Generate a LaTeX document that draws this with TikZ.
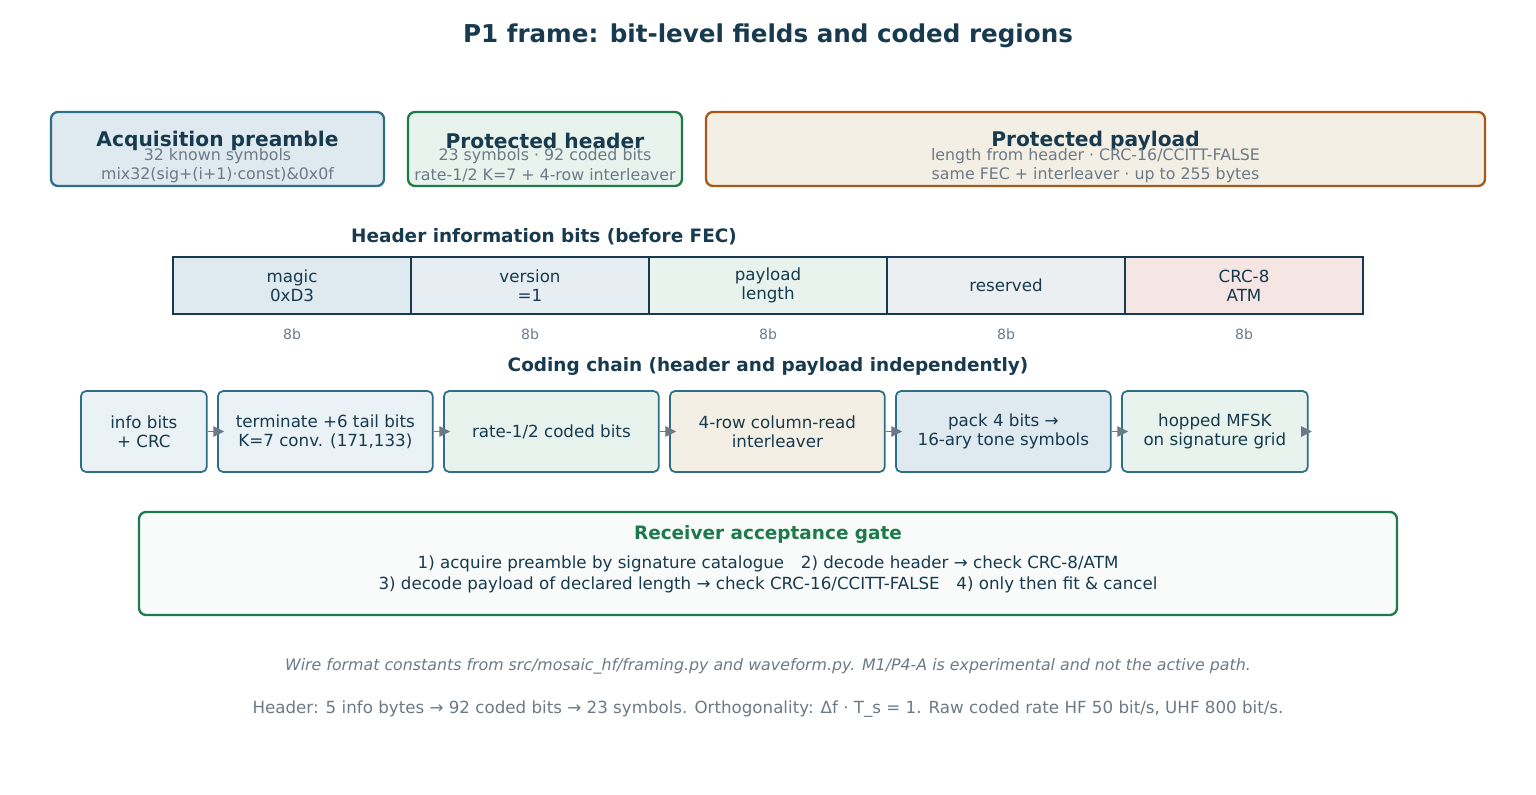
\documentclass[tikz,border=0pt]{standalone}
\usepackage{fontspec}
\setmainfont{DejaVu Sans}
\usetikzlibrary{arrows.meta}
\definecolor{ink}{HTML}{173A4E}
\definecolor{greytxt}{HTML}{6B7A86}
\definecolor{bluebd}{HTML}{2E6E86}
\definecolor{greenbd}{HTML}{1E7A4A}
\definecolor{orangebd}{HTML}{A8581A}
\tikzstyle{region}=[draw,rounded corners=4pt,line width=1.3pt,inner sep=0pt]
\tikzstyle{field}=[draw=ink,line width=0.9pt,minimum width=4.76cm,minimum height=1.14cm,inner sep=0pt,align=center,text=ink,font=\fontsize{9.5}{11}\selectfont]
\tikzstyle{stage}=[draw=bluebd,rounded corners=3pt,line width=1pt,minimum height=1.62cm,inner sep=0pt,align=center,text=ink,font=\fontsize{9.5}{11}\selectfont]
\tikzstyle{flow}=[-{Triangle[length=6pt,width=6pt]},greytxt,line width=0.4pt,shorten >=-1pt]
\tikzstyle{heading}=[text=ink,font=\bfseries\fontsize{10.5}{12}\selectfont]
\tikzstyle{note}=[text=greytxt,font=\fontsize{9}{10.5}\selectfont]
\begin{document}
\begin{tikzpicture}[x=0.02cm,y=-0.02cm]
    \useasboundingbox (0,0) rectangle (1536,795);
    \node[text=ink,font=\bfseries\fontsize{14}{16}\selectfont] (title) at (768,36) {P1 frame: bit-level fields and coded regions};

    % coded regions
    \foreach \x/\w/\bd/\bg/\name in {51/333/bluebd/DFE9F0/pre, 408/274/greenbd/E7F3EC/hdr, 706/779/orangebd/F3EFE4/pay}{
        \definecolor{bgc}{HTML}{\bg}
        \draw[region,draw=\bd,fill=bgc] (\x,112) rectangle +(\w,74);
        \coordinate (\name) at (\x+\w/2,0);
    }
    \foreach \name/\head/\one/\two in {pre/Acquisition preamble/32 known symbols/{mix32(sig+(i+1)·const)\&0x0f},
        hdr/Protected header/23 symbols · 92 coded bits/{rate-1/2 K=7 + 4-row interleaver},
        pay/Protected payload/{length from header · CRC-16/CCITT-FALSE}/same FEC + interleaver · up to 255 bytes}{
        \node[text=ink,font=\bfseries\fontsize{11.5}{13}\selectfont] (\name-t) at (\name |- 0,141) {\head};
        \node[note] (\name-a) at (\name |- 0,156) {\one};
        \node[note] (\name-b) at (\name |- 0,175) {\two};
    }

    % header fields
    \node[heading] (fieldlbl) at (544,237) {Header information bits (before FEC)};
    \foreach \i/\txt/\bg in {0/{magic\\0xD3}/DFE9F0, 1/{version\\=1}/E6EEF4, 2/{payload\\length}/E7F3EC,
                             3/reserved/ECEFF2, 4/{CRC-8\\ATM}/F6E6E3}{
        \definecolor{bgc}{HTML}{\bg}
        \node[field,fill=bgc] (f\i) at (292+238*\i,285.5) {\txt};
        \node[note,font=\fontsize{8}{9}\selectfont] (w\i) at (292+238*\i,334) {8b};
    }

    % coding chain
    \node[heading] (chainlbl) at (768,366) {Coding chain (header and payload independently)};
    \foreach \i/\x/\w/\txt/\bg in {1/80/2.52/{info bits\\+ CRC}/EAF2F6, 2/217/4.3/{terminate +6 tail bits\\K=7 conv. (171,133)}/EAF2F6,
                                   3/443/4.3/{rate-1/2 coded bits}/E7F3EC, 4/669/4.3/{4-row column-read\\interleaver}/F3EFE4,
                                   5/895/4.3/{pack 4 bits →\\16-ary tone symbols}/DFE9F0, 6/1121/3.72/{hopped MFSK\\on signature grid}/E7F3EC}{
        \definecolor{bgc}{HTML}{\bg}
        \node[stage,fill=bgc,minimum width=\w cm,anchor=west] (c\i) at (\x,431.5) {\txt};
    }
    \coordinate (cend) at (1310,431.5);
    \foreach \a/\b in {c1/c2,c2/c3,c3/c4,c4/c5,c5/c6}
        \draw[flow] (\a.east) -- ([xshift=3]\b.west);
    \draw[flow] (c6.east) -- (cend);

    % acceptance gate
    \draw[region,draw=greenbd,fill=greenbd!3] (139,512) rectangle (1397,615);
    \node[text=greenbd,font=\bfseries\fontsize{10.5}{12}\selectfont] (gate) at (768,534) {Receiver acceptance gate};
    \node[text=ink,font=\fontsize{9.5}{11}\selectfont] (gate-a) at (768,564) {1) acquire preamble by signature catalogue\quad 2) decode header → check CRC-8/ATM};
    \node[text=ink,font=\fontsize{9.5}{11}\selectfont] (gate-b) at (768,585) {3) decode payload of declared length → check CRC-16/CCITT-FALSE\quad 4) only then fit \& cancel};

    % footnotes
    \node[note,font=\itshape\fontsize{9}{10.5}\selectfont] (foot1) at (768,666) {Wire format constants from src/mosaic\_hf/framing.py and waveform.py. M1/P4-A is experimental and not the active path.};
    \node[note,font=\fontsize{9.5}{11}\selectfont] (foot2) at (768,709) {Header: 5 info bytes → 92 coded bits → 23 symbols. Orthogonality: Δf · T\_s = 1. Raw coded rate HF 50 bit/s, UHF 800 bit/s.};
\end{tikzpicture}
\end{document}
